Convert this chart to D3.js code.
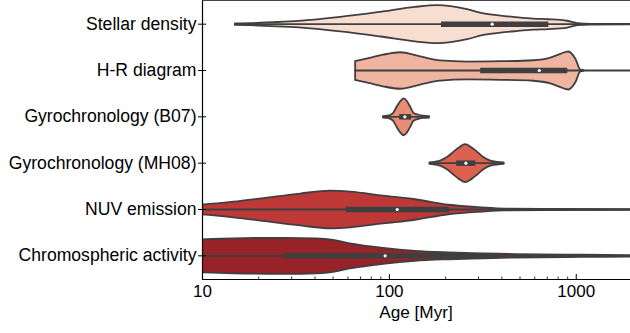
<!DOCTYPE html>
<html>
<head>
<meta charset="utf-8">
<script src="https://cdn.jsdelivr.net/npm/d3@7"></script>
<style>
  body { margin: 0; background: #fff; }
  svg text { font-family: "Liberation Sans", Arial, sans-serif; }
</style>
</head>
<body>
<div id="violin"></div>
<script>
// row names, top to bottom
const categories = ["Stellar density", "H-R diagram", "Gyrochronology (B07)",
  "Gyrochronology (MH08)", "NUV emission", "Chromospheric activity"];
const fills = ["#f8ddd1", "#efb5a0", "#e98c74", "#dd614f", "#bf3838", "#972328"];

// violin outlines: ages (Myr) and relative density (peak ~1)
const sdAge  = [15, 18, 22, 33, 55, 90, 138, 182, 262, 316, 395, 475, 592, 713, 901, 1020, 1200, 1960];
const sdDens = [0.04, 0.05, 0.09, 0.17, 0.38, 0.65, 0.91, 1.0, 0.79, 0.58, 0.45, 0.37, 0.29, 0.26, 0.18, 0.05, 0.02, 0.015];
const hrAge  = [66, 80, 93, 115, 147, 188, 263, 395, 592, 731, 827, 912, 995, 1058, 1100];
const hrDens = [0.5, 0.68, 0.83, 0.96, 0.74, 0.53, 0.47, 0.49, 0.54, 0.68, 0.88, 1.0, 0.62, 0.05, 0.02];
const b07Age  = [93, 98, 102, 105.5, 110, 115, 120, 125, 130, 135.5, 144, 152, 164];
const b07Dens = [0.04, 0.06, 0.11, 0.21, 0.53, 0.82, 0.97, 0.82, 0.53, 0.21, 0.11, 0.06, 0.04];
const mhAge  = [165, 175, 188, 204.5, 222, 238, 256, 276, 296, 320, 349, 380, 411];
const mhDens = [0.04, 0.07, 0.13, 0.32, 0.61, 0.84, 1.0, 0.84, 0.61, 0.32, 0.13, 0.07, 0.04];
const nuvAge  = [5, 7, 10, 14.7, 22.3, 33.5, 48.5, 62, 93, 138, 208, 316, 420, 730, 2000];
const nuvDens = [0.11, 0.18, 0.26, 0.41, 0.63, 0.84, 0.99, 0.94, 0.73, 0.54, 0.25, 0.11, 0.05, 0.03, 0.015];
const chAge  = [5, 7, 10, 14.7, 27.2, 41.3, 50.3, 62, 93, 138, 208, 316, 475, 1084, 2000];
const chDens = [0.74, 0.82, 0.87, 0.92, 0.95, 0.92, 0.84, 0.66, 0.42, 0.26, 0.18, 0.13, 0.09, 0.06, 0.04];

// inner box: quartiles, median, whisker ends
const boxQ1  = [190, 308, 113.5, 229, 58.9, 27.3];
const boxMed = [357, 638, 121.8, 258.5, 110.8, 95.5];
const boxQ3  = [713, 901, 131.6, 290, 210, 378.8];
const whiskLo = [15, 66, 93, 165, 5, 5];
const whiskHi = [3000, 3000, 164, 411, 3000, 3000];

const majorTicks = [10, 100, 1000];
const majorLabels = ["10", "100", "1000"];
const minorTicks = [20, 30, 40, 50, 60, 70, 80, 90, 200, 300, 400, 500, 600, 700, 800, 900];

const ages = [sdAge, hrAge, b07Age, mhAge, nuvAge, chAge];
const dens = [sdDens, hrDens, b07Dens, mhDens, nuvDens, chDens];

const W = 630, H = 333;
const padL = 202, padT = 1, axisY = 279;
const gray = "#3f3f3f";

let svg = d3.select("#violin").append("svg")
  .attr("width", W).attr("height", H);

let x = d3.scaleLog().domain([10, 2000]).range([padL, 632]);
let y = d3.scaleBand().domain(categories).range([padT, axisY]);
let w = d3.scaleLinear().domain([0, 1]).range([0, y.bandwidth() * 0.41]);

svg.append("clipPath").attr("id", "plotclip")
  .append("rect").attr("x", padL).attr("y", 0).attr("width", W - padL).attr("height", axisY);

let plot = svg.append("g").attr("clip-path", "url(#plotclip)");

categories.forEach(function(c, i) {
  let cy = y(c) + y.bandwidth() / 2;
  let pts = ages[i].map((a, j) => [a, dens[i][j]]);

  let area = d3.area()
    .x(d => x(d[0]))
    .y0(d => cy - w(d[1]))
    .y1(d => cy + w(d[1]))
    .curve(d3.curveMonotoneX);

  plot.append("path")
    .attr("d", area(pts))
    .attr("fill", fills[i])
    .attr("stroke", gray)
    .attr("stroke-width", 1.8)
    .attr("stroke-linejoin", "round");

  // whisker
  plot.append("line")
    .attr("x1", x(whiskLo[i])).attr("x2", x(whiskHi[i]))
    .attr("y1", cy).attr("y2", cy)
    .attr("stroke", gray).attr("stroke-width", 1.8)
    .attr("stroke-linecap", "round");

  // box
  plot.append("line")
    .attr("x1", x(boxQ1[i])).attr("x2", x(boxQ3[i]))
    .attr("y1", cy).attr("y2", cy)
    .attr("stroke", gray).attr("stroke-width", 5.5);

  plot.append("circle")
    .attr("cx", x(boxMed[i])).attr("cy", cy).attr("r", 1.6)
    .attr("fill", "#fff");
});

// x axis, ticks pointing in
let xAxis = svg.append("g")
  .attr("transform", `translate(0, ${axisY})`)
  .call(d3.axisBottom(x).tickValues(majorTicks)
    .tickFormat((d, i) => majorLabels[i])
    .tickSizeInner(-5).tickSizeOuter(0).tickPadding(5.5));
xAxis.select(".domain").remove();
xAxis.selectAll("text").attr("font-size", 17).attr("fill", "#000")
  .style("font-family", "Liberation Sans, Arial, sans-serif");

let xMinor = svg.append("g")
  .attr("transform", `translate(0, ${axisY})`)
  .call(d3.axisBottom(x).tickValues(minorTicks).tickFormat("")
    .tickSizeInner(-2.5).tickSizeOuter(0));
xMinor.select(".domain").remove();
xMinor.selectAll("line").attr("stroke-width", 0.8);

// y axis
let yAxis = svg.append("g")
  .attr("transform", `translate(${padL}, 0)`)
  .call(d3.axisLeft(y).tickSize(4).tickPadding(1.5));
yAxis.select(".domain").remove();
yAxis.selectAll("line").attr("x1", 4).attr("x2", -4);
yAxis.selectAll("text").attr("font-size", 17.6).attr("fill", "#000")
  .style("font-family", "Liberation Sans, Arial, sans-serif");

// spines
svg.append("line").attr("x1", padL).attr("x2", W).attr("y1", axisY + 0.5).attr("y2", axisY + 0.5)
  .attr("stroke", "#000").attr("stroke-width", 1.2);
svg.append("line").attr("x1", padL + 0.5).attr("x2", padL + 0.5).attr("y1", 0).attr("y2", axisY + 1)
  .attr("stroke", "#000").attr("stroke-width", 1.2);
svg.append("line").attr("x1", padL).attr("x2", W).attr("y1", 0.5).attr("y2", 0.5)
  .attr("stroke", "#444").attr("stroke-width", 1.2);

svg.append("text")
  .attr("x", (padL + W) / 2).attr("y", 318)
  .attr("text-anchor", "middle").attr("font-size", 17.2)
  .text("Age [Myr]");
</script>
</body>
</html>
